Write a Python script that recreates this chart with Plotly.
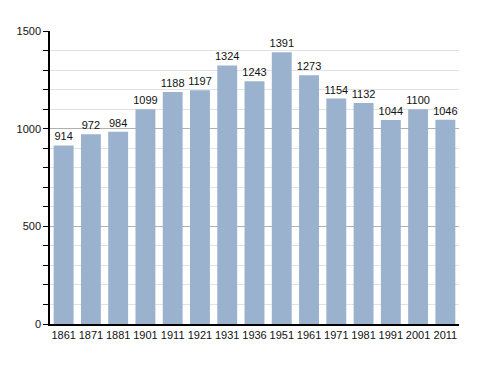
import plotly.graph_objects as go

years = ["1861", "1871", "1881", "1901", "1911", "1921", "1931", "1936", "1951", "1961", "1971", "1981", "1991", "2001", "2011"]
population = [914, 972, 984, 1099, 1188, 1197, 1324, 1243, 1391, 1273, 1154, 1132, 1044, 1100, 1046]
y_ticks = [0, 500, 1000, 1500]

fig = go.Figure(go.Bar(
    x=years, y=population,
    marker=dict(color="#9bb2cf", line=dict(width=0)),
    text=[str(v) for v in population],
    textposition="outside",
    cliponaxis=False,
    textfont=dict(family="Liberation Sans, Arial", size=11, color="#111"),
))

# page body has an 8px default margin, so size the figure to the remaining area
fig.update_layout(
    width=480, height=365,
    margin=dict(l=42, r=29, t=23, b=49, autoexpand=False),
    paper_bgcolor="white", plot_bgcolor="white",
    bargap=0.27,
    showlegend=False,
    uniformtext=dict(minsize=11, mode="show"),
    font=dict(family="Liberation Sans, Arial", size=11, color="#111"),
)
fig.update_xaxes(
    type="category", showline=True, linecolor="black", linewidth=1.5,
    ticks="", showgrid=False, tickfont=dict(size=11), automargin=False,
)
fig.update_yaxes(
    range=[0, 1500], tickvals=y_ticks, showline=True, linecolor="black", linewidth=1.5,
    ticks="outside", ticklen=5, tickcolor="black", automargin=False,
    showgrid=True, gridcolor="#b0b0b0", gridwidth=1, zeroline=False,
    minor=dict(dtick=100, showgrid=True, gridcolor="#e2e2e2", ticks="outside", ticklen=5, tickcolor="black"),
    tickfont=dict(size=11),
)

fig.write_html("out.html")
